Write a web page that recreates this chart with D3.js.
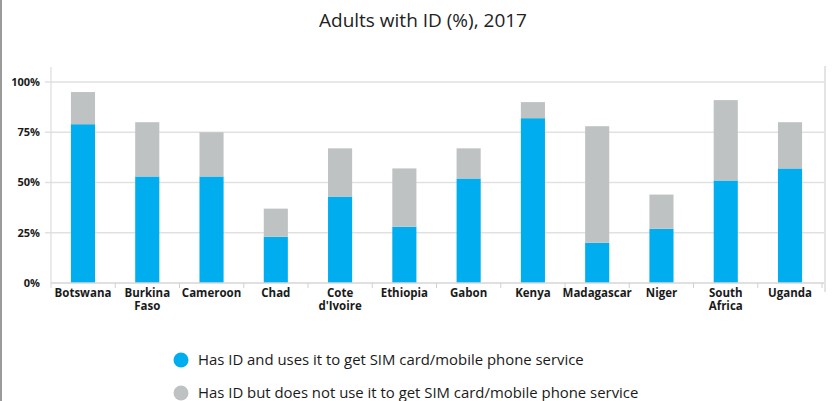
<!DOCTYPE html>
<html>
<head>
<meta charset="utf-8">
<script src="https://cdn.jsdelivr.net/npm/d3@7"></script>
<style>
  html, body { margin: 0; padding: 0; background: #fff; }
  svg { display: block; }
  text { font-family: "Open Sans", "Noto Sans", sans-serif; }
</style>
</head>
<body>
<svg id="chart" width="833" height="401"></svg>
<script>
// Countries (line breaks marked with "\n")
const countries = ["Botswana", "Burkina\nFaso", "Cameroon", "Chad", "Cote\nd'Ivoire", "Ethiopia",
  "Gabon", "Kenya", "Madagascar", "Niger", "South\nAfrica", "Uganda"];
// Share of adults (%) with ID who use it to get SIM card / mobile phone service
const usesId = [79, 53, 53, 23, 43, 28, 52, 82, 20, 27, 51, 57];
// Share of adults (%) with ID who do not use it for that
const notUsesId = [16, 27, 22, 14, 24, 29, 15, 8, 58, 17, 40, 23];
const yTicks = [0, 25, 50, 75, 100];
const seriesNames = [
  "Has ID and uses it to get SIM card/mobile phone service",
  "Has ID but does not use it to get SIM card/mobile phone service"
];
const colors = ["#00aeef", "#bfc2c3"];

const svg = d3.select("#chart");
const W = 833, H = 401;

// frame line on the left
svg.append("rect").attr("x", 0).attr("y", 0).attr("width", 2).attr("height", H).attr("fill", "#9a9a9a");

svg.append("text")
  .attr("x", 423).attr("y", 27)
  .attr("text-anchor", "middle")
  .attr("font-size", 19)
  .attr("fill", "#222")
  .text("Adults with ID (%), 2017");

const plot = { left: 51, right: 824, top: 82, bottom: 283 };

const x = d3.scaleBand().domain(countries).range([plot.left, plot.right - 2]).paddingInner(0.625).paddingOuter(0.31);
const xBounds = d3.scaleBand().domain(countries).range([plot.left, plot.right - 2]);
const y = d3.scaleLinear().domain([0, 100]).range([plot.bottom, plot.top]);

// gridlines
svg.append("g").selectAll("line").data(yTicks.slice(1)).join("line")
  .attr("x1", plot.left - 6).attr("x2", plot.right)
  .attr("y1", d => y(d)).attr("y2", d => y(d))
  .attr("stroke", "#e1e1e1").attr("stroke-width", 1.5);

// left and right frame lines of the plot
svg.append("line").attr("x1", plot.left).attr("x2", plot.left).attr("y1", 67).attr("y2", 288)
  .attr("stroke", "#dddddd").attr("stroke-width", 1.2);
svg.append("line").attr("x1", plot.right + 1).attr("x2", plot.right + 1).attr("y1", 66).attr("y2", 292)
  .attr("stroke", "#e4e4e4").attr("stroke-width", 2);

// y tick labels
svg.append("g").selectAll("text").data(yTicks).join("text")
  .attr("x", 40).attr("y", d => y(d)).attr("dy", "0.35em")
  .attr("text-anchor", "end")
  .attr("font-size", 11).attr("font-weight", 700).attr("fill", "#1a1a1a")
  .text(d => d + "%");

// stacked bars
const rows = countries.map((c, i) => ({ country: c, a: usesId[i], b: notUsesId[i] }));
const stacked = d3.stack().keys(["a", "b"])(rows);
svg.append("g").selectAll("g").data(stacked).join("g")
  .attr("fill", (d, i) => colors[i])
  .selectAll("rect").data(d => d).join("rect")
  .attr("x", d => x(d.data.country))
  .attr("width", x.bandwidth())
  .attr("y", d => y(d[1]))
  .attr("height", d => y(d[0]) - y(d[1]));

// baseline and category separators
svg.append("line").attr("x1", plot.left).attr("x2", plot.right).attr("y1", y(0)).attr("y2", y(0))
  .attr("stroke", "#d6d6d6").attr("stroke-width", 1.5);
svg.append("g").selectAll("line").data(countries).join("line")
  .attr("x1", d => xBounds(d) + xBounds.bandwidth()).attr("x2", d => xBounds(d) + xBounds.bandwidth())
  .attr("y1", y(0)).attr("y2", y(0) + 5)
  .attr("stroke", "#d0d0d0").attr("stroke-width", 1);

// x labels
const xl = svg.append("g").selectAll("text").data(countries).join("text")
  .attr("text-anchor", "middle")
  .attr("font-size", 11.5).attr("font-weight", 700).attr("fill", "#1a1a1a")
  .attr("transform", d => `translate(${x(d) + x.bandwidth() / 2},297)`);
xl.selectAll("tspan").data(d => d.split("\n")).join("tspan")
  .attr("x", 0).attr("dy", (d, i) => i === 0 ? 0 : 12.5)
  .text(d => d);

// legend
const lg = svg.append("g").selectAll("g").data(seriesNames).join("g")
  .attr("transform", (d, i) => `translate(181,${360 + i * 33})`);
lg.append("circle").attr("r", 7.5).attr("fill", (d, i) => colors[i]);
lg.append("text").attr("x", 17).attr("dy", "0.35em")
  .attr("font-size", 14.9).attr("fill", "#1a1a1a").text(d => d);
</script>
</body>
</html>
